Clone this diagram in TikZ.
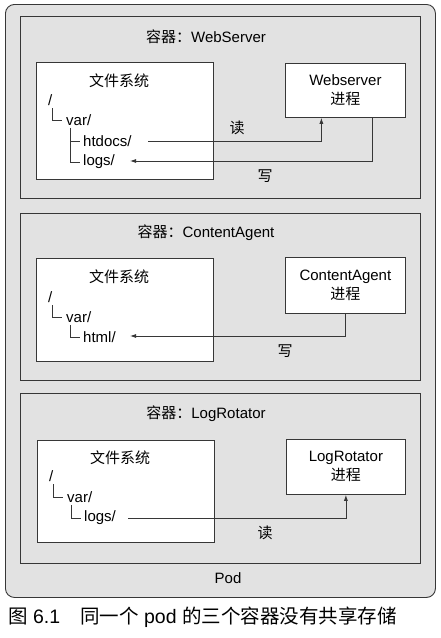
\documentclass[tikz,border=0pt]{standalone}
\usepackage{fontspec}
\setmainfont{Liberation Sans}
\newfontfamily\zh{Noto Sans CJK SC}
\usepackage{xcolor}
\usepackage{tikz}
\usetikzlibrary{arrows.meta,positioning,calc}
\definecolor{podgray}{RGB}{226,226,226}
\definecolor{linegray}{RGB}{55,55,55}
\tikzset{
  podbox/.style={draw=linegray,fill=podgray,rounded corners=9pt,line width=0.9pt},
  ctrbox/.style={draw=linegray,fill=podgray,line width=0.9pt},
  fsbox/.style={draw=linegray,fill=white,line width=0.8pt},
  procbox/.style={draw=linegray,fill=white,line width=0.8pt,align=center,
    font=\fontsize{15}{19}\selectfont},
  lbl/.style={inner sep=0pt,font=\fontsize{15}{18}\selectfont},
  treetxt/.style={lbl,anchor=west},
  treeline/.style={draw=linegray,line width=0.8pt},
  flowarrow/.style={-{Latex[length=6pt,width=4pt]},draw=linegray,line width=0.8pt}
}
\newcommand{\boxat}[5]{% style, name, top left corner, width, height
  \node[#1,anchor=north west,minimum width=#4,minimum height=#5,inner sep=0pt] (#2) at (#3) {};}

\begin{document}
\begin{tikzpicture}[x=1pt,y=-1pt]
  \useasboundingbox (0,0) rectangle (441,638);
  % pod and containers
  \boxat{podbox}{pod}{5,4}{430pt}{593pt}
  \boxat{ctrbox}{ctrA}{20,16}{400pt}{182pt}
  \boxat{ctrbox}{ctrB}{20,213}{400pt}{167pt}
  \boxat{ctrbox}{ctrC}{20,393}{400pt}{170pt}
  \node[lbl] (podlbl) at (228,578) {Pod};

  % --- WebServer ---
  \node[lbl] (titleA) at (206,37) {{\zh 容器：}WebServer};
  \boxat{fsbox}{fsA}{36,62}{177pt}{117pt}
  \node[procbox,anchor=north west,minimum width=120pt,minimum height=54pt] (procA) at (285,63) {Webserver\\{\zh 进程}};
  \node[lbl] (fsAt) at (119,81) {\zh 文件系统};
  \node[treetxt] (rootA) at (48,100) {/};
  \node[treetxt] (varA) at (66,120) {var/};
  \node[treetxt] (htA) at (83,141) {htdocs/};
  \node[treetxt] (logA) at (83,162) {logs/};
  \draw[treeline] (52,108) |- (62,120);
  \draw[treeline] (70,128) |- (80,162);
  \draw[treeline] (70,141) -- (80,141);
  \coordinate (htAend) at (148,141);
  \coordinate (logAend) at (130,161);
  \draw[flowarrow] (htAend) -| ([xshift=-24pt]procA.south);
  \draw[flowarrow] ([xshift=27pt]procA.south) |- (logAend);
  \node[lbl] (readA) at (237,128) {\zh 读};
  \node[lbl] (writeA) at (265,176) {\zh 写};

  % --- ContentAgent ---
  \node[lbl] (titleB) at (206,233) {{\zh 容器：}ContentAgent};
  \boxat{fsbox}{fsB}{36,258}{177pt}{103pt}
  \node[procbox,anchor=north west,minimum width=120pt,minimum height=56pt] (procB) at (285,257) {ContentAgent\\{\zh 进程}};
  \node[lbl] (fsBt) at (119,277) {\zh 文件系统};
  \node[treetxt] (rootB) at (48,297) {/};
  \node[treetxt] (varB) at (66,317) {var/};
  \node[treetxt] (htmlB) at (83,337) {html/};
  \draw[treeline] (52,305) |- (62,317);
  \draw[treeline] (70,325) |- (80,337);
  \coordinate (htmlBend) at (130,336);
  \draw[flowarrow] (procB.south) |- (htmlBend);
  \node[lbl] (writeB) at (285,351) {\zh 写};

  % --- LogRotator ---
  \node[lbl] (titleC) at (206,414) {{\zh 容器：}LogRotator};
  \boxat{fsbox}{fsC}{37,440}{177pt}{102pt}
  \node[procbox,anchor=north west,minimum width=119pt,minimum height=55pt] (procC) at (286,439) {LogRotator\\{\zh 进程}};
  \node[lbl] (fsCt) at (120,458) {\zh 文件系统};
  \node[treetxt] (rootC) at (49,476) {/};
  \node[treetxt] (varC) at (67,497) {var/};
  \node[treetxt] (logC) at (84,518) {logs/};
  \draw[treeline] (53,484) |- (63,497);
  \draw[treeline] (71,505) |- (81,518);
  \coordinate (logCend) at (128,518);
  \draw[flowarrow] (logCend) -| (procC.south);
  \node[lbl] (readC) at (265,533) {\zh 读};

  % caption
  \node[inner sep=0pt,anchor=west,font=\fontsize{19.5}{22}\selectfont] (cap) at (8,617)
    {{\zh 图} 6.1\hspace{20pt}{\zh 同一个} pod {\zh 的三个容器没有共享存储}};
\end{tikzpicture}
\end{document}
